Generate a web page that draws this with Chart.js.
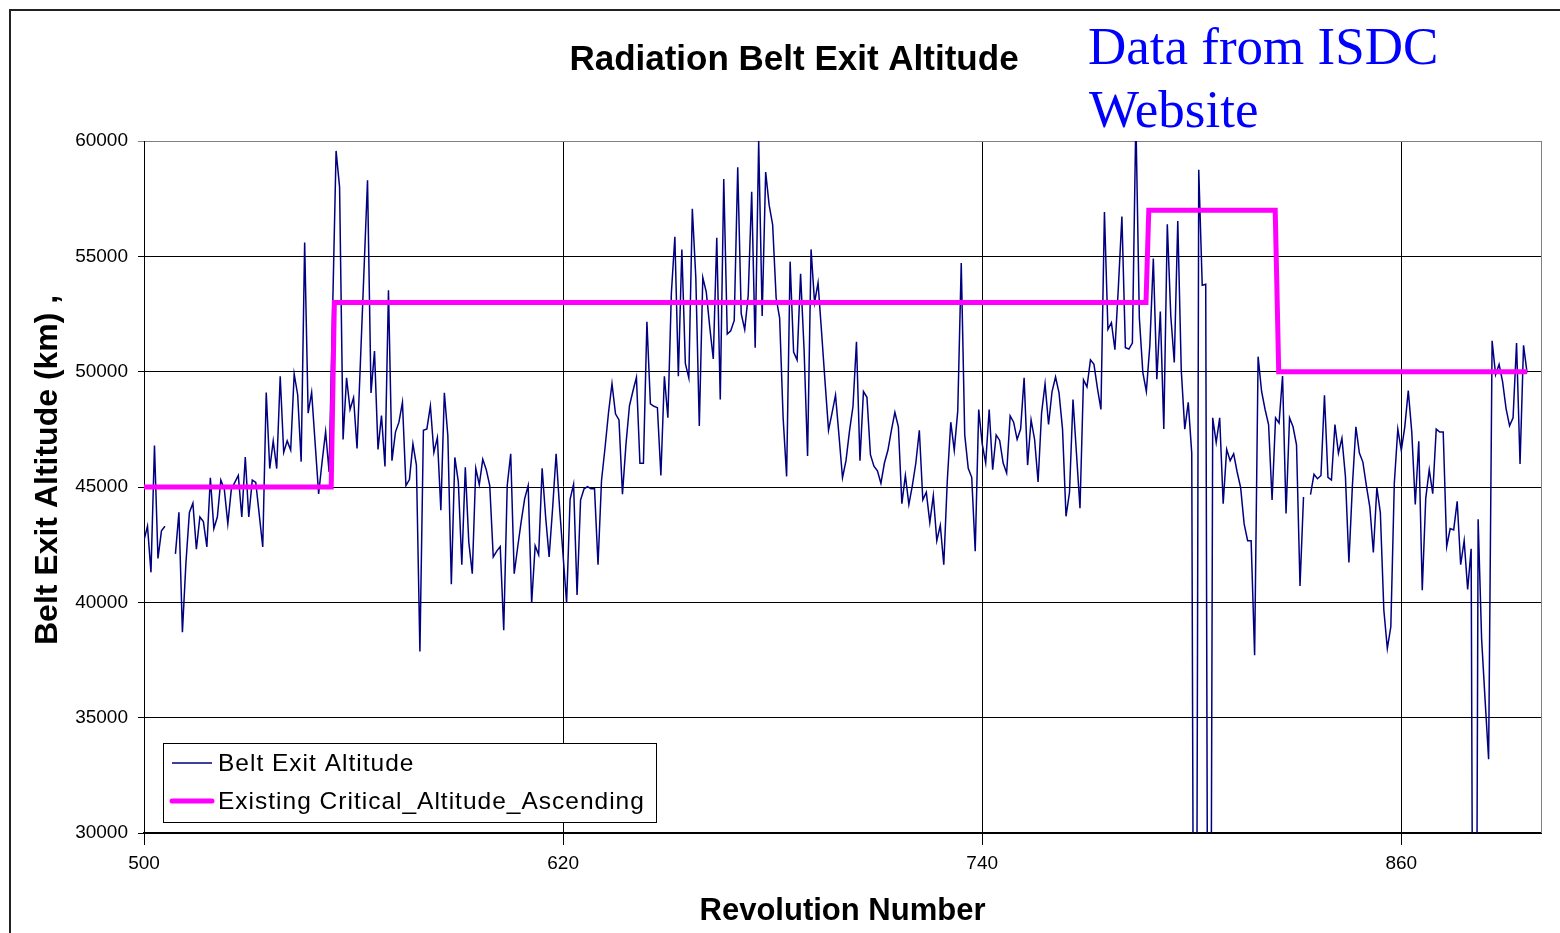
<!DOCTYPE html>
<html>
<head>
<meta charset="utf-8">
<title>Radiation Belt Exit Altitude</title>
<script src="https://cdn.jsdelivr.net/npm/chart.js@4.4.1/dist/chart.umd.min.js"></script>
<style>
  html, body { margin: 0; padding: 0; background: #fff; }
  #wrap { position: relative; width: 1560px; height: 933px; overflow: hidden; }
  #frame { position: absolute; left: 9px; top: 9px; width: 1560px; height: 940px;
           border-top: 2px solid #222; border-left: 2px solid #222; pointer-events: none; }
  canvas { position: absolute; left: 0; top: 0; }
</style>
</head>
<body>
<div id="wrap">
  <canvas id="beltChart" width="1560" height="933"></canvas>
  <div id="frame"></div>
</div>
<script>
const FONT = '"Liberation Sans", Arial, sans-serif';

const chartTitle = 'Radiation Belt Exit Altitude';
const xTitle = 'Revolution Number';
const yTitle = 'Belt Exit Altitude (km) ,';
const sourceLines = ['Data from ISDC', 'Website'];

const xTicks = [500, 620, 740, 860];
const yTicks = [30000, 35000, 40000, 45000, 50000, 55000, 60000];

// revolution numbers of the measured points (null altitude = break in the line)
const beltRevs = [
  500, 501, 502, 503, 504, 505, 506, 507, 509, 510,
  511, 512, 513, 514, 515, 516, 517, 518, 519, 520,
  521, 522, 523, 524, 525, 526, 527, 528, 529, 530,
  531, 532, 533, 534, 535, 536, 537, 538, 539, 540,
  541, 542, 543, 544, 545, 546, 547, 548, 550, 551,
  552, 553, 555, 556, 557, 558, 559, 560, 561, 564,
  565, 566, 567, 568, 569, 570, 571, 572, 573, 574,
  575, 576, 577, 578, 579, 580, 581, 582, 583, 584,
  585, 586, 587, 588, 589, 590, 591, 592, 593, 594,
  595, 596, 597, 598, 599, 600, 601, 602, 603, 604,
  605, 606, 607, 608, 609, 610, 611, 612, 613, 614,
  615, 616, 617, 618, 619, 621, 622, 623, 624, 625,
  626, 627, 628, 629, 630, 631, 632, 633, 634, 635,
  636, 637, 638, 639, 640, 641, 642, 643, 644, 645,
  646, 647, 648, 649, 650, 651, 652, 653, 654, 655,
  656, 657, 658, 659, 660, 661, 662, 663, 664, 665,
  666, 667, 668, 669, 670, 671, 672, 673, 674, 675,
  676, 677, 678, 679, 680, 681, 682, 683, 684, 685,
  686, 687, 688, 689, 690, 691, 692, 693, 694, 695,
  696, 697, 698, 699, 700, 701, 702, 703, 704, 705,
  706, 707, 708, 709, 710, 711, 712, 713, 714, 715,
  716, 717, 718, 719, 720, 721, 722, 723, 724, 725,
  726, 727, 728, 729, 730, 731, 732, 733, 734, 735,
  736, 737, 738, 739, 740, 741, 742, 743, 744, 745,
  746, 747, 748, 749, 750, 751, 752, 753, 754, 755,
  756, 757, 758, 759, 760, 761, 762, 763, 764, 765,
  766, 767, 768, 769, 770, 771, 772, 773, 774, 775,
  776, 777, 778, 779, 780, 781, 782, 783, 784, 785,
  786, 787, 788, 789, 790, 791, 792, 793, 794, 795,
  796, 797, 798, 799, 800, 801, 802, 803, 804, 805,
  806, 807, 808, 809, 810, 811, 812, 813, 814, 815,
  816, 817, 818, 819, 820, 821, 822, 823, 824, 825,
  826, 827, 828, 829, 830, 831, 832, 833, 834, 835,
  836, 837, 838, 839, 840, 841, 842, 843, 844, 845,
  846, 847, 848, 849, 850, 851, 852, 853, 854, 855,
  856, 857, 858, 859, 860, 861, 862, 863, 864, 865,
  866, 867, 868, 869, 870, 871, 872, 873, 874, 875,
  876, 877, 878, 879, 880, 881, 882, 883, 884, 885,
  886, 887, 888, 889, 890, 891, 892, 893, 894, 895, 896
];

const beltAlt = [
  42700, 43300, 41300, 46800, 41900, 43100, 43300, null, 42100, 43900,
  38700, 41700, 43900, 44300, 42300, 43700, 43500, 42400, 45400, 43200,
  43700, 45300, 44900, 43400, 44900, 45200, 45500, 43700, 46300, 43700,
  45300, 45200, 43800, 42400, 49100, 45800, 47000, 45800, 49800, 46500,
  47000, 46600, 49900, 49000, 46100, 55600, 48200, 49100, 44700, 46100,
  47400, 45650, 59570, 58000, 47060, 49730, 48360, 48870, 46670, 58300,
  49080, 50890, 46630, 48100, 45890, 53530, 46140, 47380, 47810, 48670,
  45060, 45320, 46870, 45950, 37870, 47460, 47520, 48520, 46500, 47140,
  43990, 49080, 47220, 40790, 46280, 45220, 41630, 45850, 42610, 41240,
  45810, 45100, 46200, 45750, 45060, 41970, 42220, 42420, 38790, 45060,
  46440, 41240, 42400, 43500, 44500, 45060, 39970, 42450, 42060, 45810,
  43700, 41970, 44080, 46440, 44080, 39970, 44470, 45120, 40320, 44430,
  44920, 45020, 44920, 44920, 41630, 45280, 46690, 48220, 49480, 48170,
  47910, 44690, 46850, 48520, 49160, 49750, 46030, 46030, 52160, 48600,
  48500, 48440, 45500, 49800, 48000, 53400, 55850, 49800, 55300, 50360,
  49730, 57060, 54080, 47650, 54080, 53450, 51920, 50550, 55800, 48790,
  58350, 51630, 51770, 52220, 58860, 52510, 51830, 53300, 57800, 51040,
  60000, 52410, 58650, 57220, 56370, 53200, 52320, 48000, 45460, 54770,
  50850, 50510, 54240, 50950, 46340, 55300, 53000, 53850, 51730, 49570,
  47460, 48200, 48980, 47220, 45400, 46140, 47420, 48490, 51300, 46140,
  49140, 48890, 46400, 45900, 45700, 45160, 46040, 46590, 47460, 48240,
  47610, 44280, 45500, 44240, 45060, 46040, 47460, 44440, 44770, 43460,
  44630, 42670, 43340, 41630, 45260, 47810, 46590, 48300, 54710, 47260,
  45810, 45420, 42220, 48360, 46870, 46040, 48360, 45750, 47260, 47020,
  46040, 45610, 48080, 47810, 47060, 47510, 49730, 45950, 47910, 47060,
  45220, 48200, 49470, 47710, 49140, 49770, 49080, 47510, 43730, 44770,
  48790, 46440, 44080, 49650, 49340, 50510, 50320, 49280, 48360, 56920,
  51830, 52120, 50950, 53690, 56730, 51040, 50980, 51240, 61000, 52320,
  49960, 49140, 51140, 54900, 49670, 52610, 47510, 56390, 52410, 50400,
  56530, 50060, 47510, 48670, 46470, 0, 58750, 53750, 53790, 0,
  48000, 46930, 48000, 44280, 46630, 46140, 46440, 45650, 44970, 43400,
  42670, 42670, 37710, 50650, 49140, 48360, 47710, 44440, 48000, 47770,
  49810, 43850, 48000, 47610, 46830, 40710, 44570, null, 44670, 45550,
  45360, 45500, 48980, 45420, 45300, 47710, 46470, 47120, 45460, 41730,
  45060, 47610, 46470, 46080, 45060, 44120, 42160, 44970, 43890, 39670,
  38000, 38940, 45160, 47510, 46590, 47610, 49180, 47380, 44240, 46980,
  40520, 44510, 45750, 44710, 47510, 47380, 47380, 42420, 43200, 43140,
  44380, 41630, 42670, 40560, 42320, 0, 43600, 38400, 35750, 33200,
  51340, 49870, 50320, 49570, 48400, 47650, 48000, 51240, 46000, 51140, 49960
];

// existing critical altitude (step line)
const critRevs = [500, 553.6, 554.5, 786.9, 787.7, 823.9, 824.9, 896];
const critAlt = [45000, 45000, 53000, 53000, 57000, 57000, 50000, 50000];

const seriesNames = ['Belt Exit Altitude', 'Existing Critical_Altitude_Ascending'];
const seriesColors = ['#000080', '#ff00ff'];

const decorations = {
  id: 'decorations',
  afterDraw(chart) {
    const { ctx, chartArea: a } = chart;
    ctx.save();
    // grey right edge of plot area
    ctx.strokeStyle = '#808080';
    ctx.lineWidth = 1;
    ctx.beginPath();
    ctx.moveTo(a.right + 0.5, a.top);
    ctx.lineTo(a.right + 0.5, a.bottom);
    ctx.stroke();

    // titles
    ctx.fillStyle = '#000';
    ctx.textAlign = 'center';
    ctx.textBaseline = 'alphabetic';
    ctx.font = 'bold 35px ' + FONT;
    ctx.fillText(chartTitle, 794, 70);
    ctx.font = 'bold 31px ' + FONT;
    ctx.fillText(xTitle, (a.left + a.right) / 2, 920);
    ctx.save();
    ctx.translate(57, 645);
    ctx.rotate(-Math.PI / 2);
    ctx.textAlign = 'left';
    ctx.font = 'bold 32px ' + FONT;
    ctx.fillText(yTitle, 0, 0);
    ctx.restore();

    // source note
    ctx.fillStyle = '#0000ff';
    ctx.textAlign = 'left';
    ctx.font = '53px "Liberation Serif", "Times New Roman", serif';
    ctx.fillText(sourceLines[0], 1088, 64);
    ctx.fillText(sourceLines[1], 1089, 127);

    // legend box inside plot
    ctx.fillStyle = '#fff';
    ctx.fillRect(163, 743, 493, 79);
    ctx.strokeStyle = '#000';
    ctx.lineWidth = 1;
    ctx.strokeRect(163.5, 743.5, 493, 79);
    const rows = [763, 801];
    const widths = [1.5, 5];
    ctx.font = '24.5px ' + FONT;
    ctx.letterSpacing = '1px';
    ctx.textBaseline = 'middle';
    seriesNames.forEach((name, i) => {
      ctx.strokeStyle = seriesColors[i];
      ctx.lineWidth = widths[i];
      ctx.lineCap = i === 1 ? 'round' : 'butt';
      ctx.beginPath();
      ctx.moveTo(172, rows[i]);
      ctx.lineTo(212, rows[i]);
      ctx.stroke();
      ctx.fillStyle = '#000';
      ctx.fillText(name, 218, rows[i] + 1);
    });
    ctx.restore();
  }
};

const ctx = document.getElementById('beltChart').getContext('2d');

const beltChart = new Chart(ctx, {
  type: 'line',
  data: {
    datasets: [{
      label: seriesNames[0],
      data: beltRevs.map((r, i) => ({ x: r, y: beltAlt[i] })),
      borderColor: seriesColors[0],
      borderWidth: 1.5,
      pointRadius: 0,
      tension: 0,
      spanGaps: false,
      order: 1
    }, {
      label: seriesNames[1],
      data: critRevs.map((r, i) => ({ x: r, y: critAlt[i] })),
      borderColor: seriesColors[1],
      borderWidth: 5,
      pointRadius: 0,
      tension: 0,
      order: 0
    }]
  },
  options: {
    responsive: false,
    animation: false,
    devicePixelRatio: 1,
    layout: { padding: { top: 141, right: 19, left: 0, bottom: 0 } },
    plugins: {
      legend: { display: false },
      title: { display: false },
      tooltip: { enabled: false }
    },
    scales: {
      x: {
        type: 'linear',
        min: 500,
        max: 900,
        afterBuildTicks: s => { s.ticks = xTicks.map(v => ({ value: v })); },
        afterFit: s => { s.height = 100; },
        grid: { color: '#000', lineWidth: 1, tickLength: 12 },
        border: { color: '#000', width: 2 },
        ticks: {
          color: '#000',
          font: { family: FONT, size: 19 },
          padding: 7,
          maxRotation: 0,
          autoSkip: false,
          callback: v => String(v)
        }
      },
      y: {
        min: 30000,
        max: 60000,
        afterBuildTicks: s => { s.ticks = yTicks.map(v => ({ value: v })); },
        afterFit: s => { s.width = 144; },
        grid: {
          color: c => (c.tick && c.tick.value === 60000 ? '#808080' : '#000'),
          lineWidth: 1,
          tickLength: 6
        },
        border: { color: '#000', width: 1 },
        ticks: {
          color: '#000',
          font: { family: FONT, size: 19 },
          padding: 10,
          callback: v => String(v)
        }
      }
    }
  },
  plugins: [decorations]
});
</script>
</body>
</html>
